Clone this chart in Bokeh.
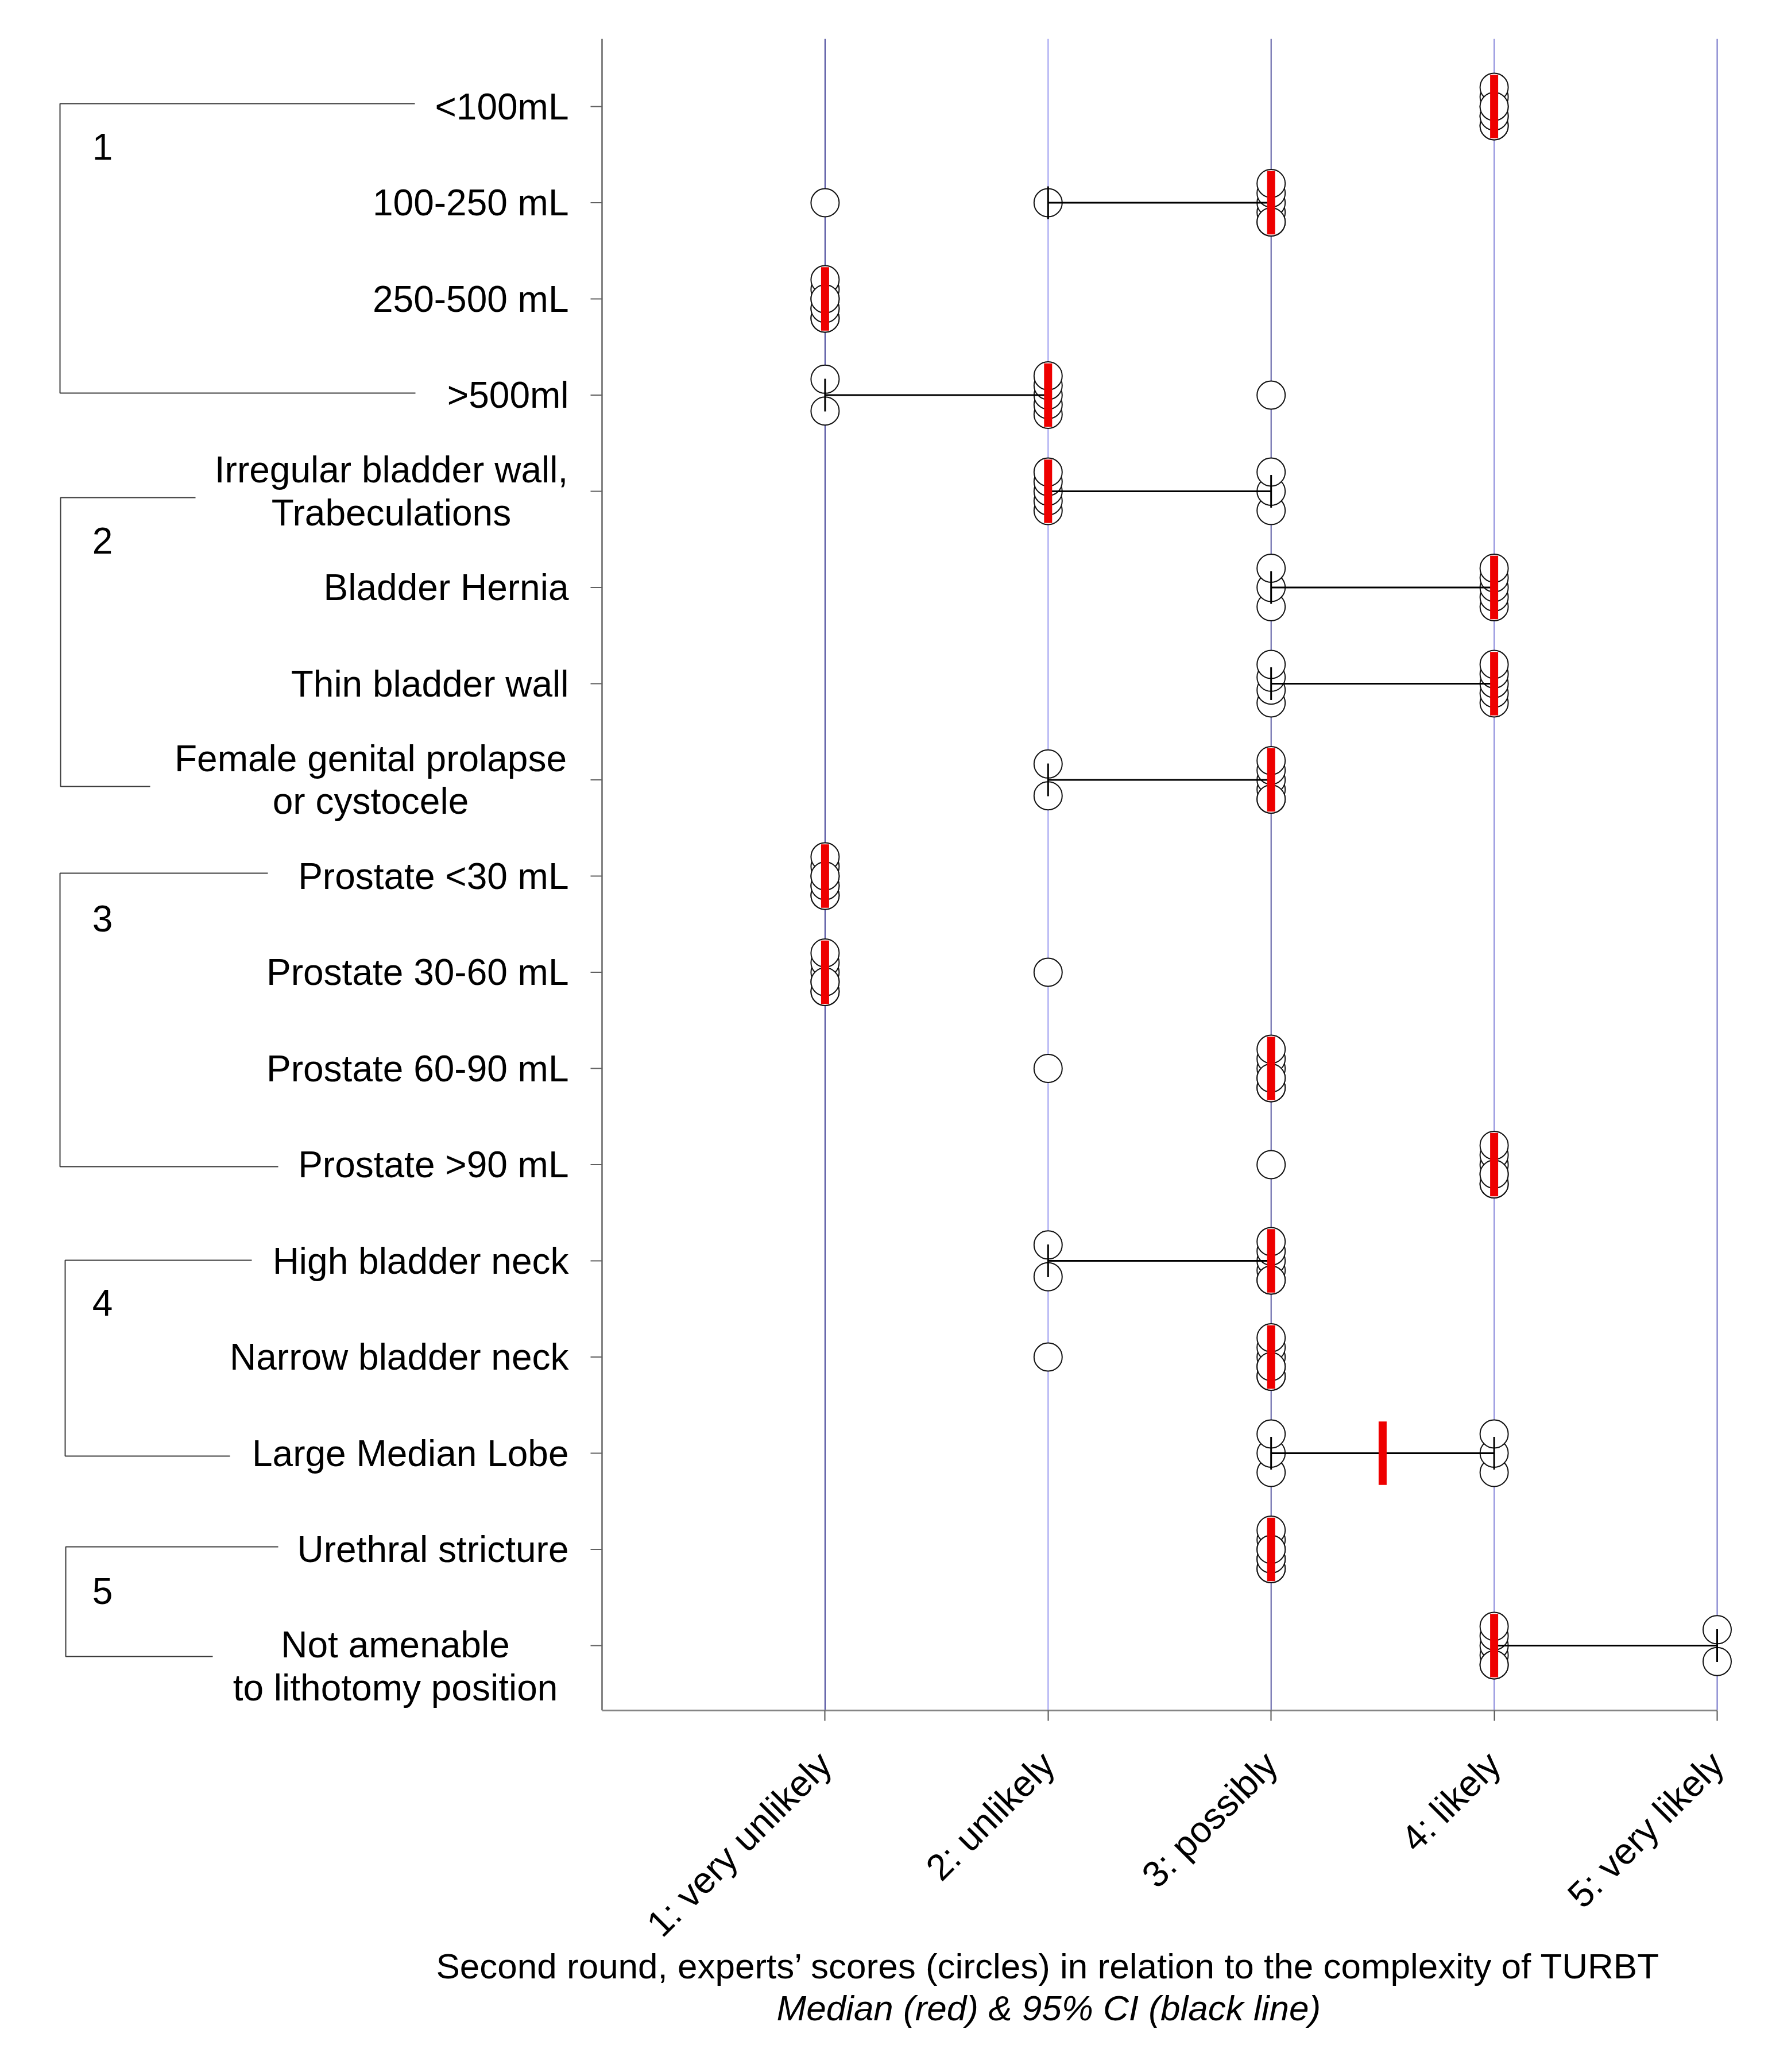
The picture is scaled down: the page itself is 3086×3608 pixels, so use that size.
import math
from collections import Counter
import numpy as np
from bokeh.plotting import figure
from bokeh.models import FixedTicker, Range1d, Title
from bokeh.core.properties import value
from bokeh.embed import file_html
from bokeh.resources import INLINE

# ---------------- data ----------------
categories = [
    "<100mL", "100-250 mL", "250-500 mL", ">500ml",
    "Irregular bladder wall,\nTrabeculations", "Bladder Hernia", "Thin bladder wall",
    "Female genital prolapse\nor cystocele",
    "Prostate <30 mL", "Prostate 30-60 mL", "Prostate 60-90 mL", "Prostate >90 mL",
    "High bladder neck", "Narrow bladder neck", "Large Median Lobe",
    "Urethral stricture", "Not amenable\nto lithotomy position",
]
scores = [
    [4, 4, 4, 4, 4, 4, 4, 4],
    [1, 2, 3, 3, 3, 3, 3, 3],
    [1, 1, 1, 1, 1, 1, 1, 1],
    [1, 1, 2, 2, 2, 2, 2, 3],
    [2, 2, 2, 2, 2, 3, 3, 3],
    [3, 3, 3, 4, 4, 4, 4, 4],
    [3, 3, 3, 3, 4, 4, 4, 4, 4],
    [2, 2, 3, 3, 3, 3, 3, 3],
    [1, 1, 1, 1, 1, 1, 1, 1],
    [1, 1, 1, 1, 1, 1, 1, 2],
    [2, 3, 3, 3, 3, 3, 3, 3],
    [3, 4, 4, 4, 4, 4, 4, 4],
    [2, 2, 3, 3, 3, 3, 3, 3],
    [2, 3, 3, 3, 3, 3, 3, 3],
    [3, 3, 3, 4, 4, 4],
    [3, 3, 3, 3, 3, 3, 3, 3],
    [4, 4, 4, 4, 4, 4, 5, 5],
]
medians = [4, 3, 1, 2, 2, 4, 4, 3, 1, 1, 3, 4, 3, 3, 3.5, 3, 4]
ci_low  = [4, 2, 1, 1, 2, 3, 3, 2, 1, 1, 3, 4, 2, 3, 3, 3, 4]
ci_high = [4, 3, 1, 2, 3, 4, 4, 3, 1, 1, 3, 4, 3, 3, 4, 3, 5]
score_levels = [1, 2, 3, 4, 5]
score_labels = ["1: very unlikely", "2: unlikely", "3: possibly", "4: likely", "5: very likely"]
group_names = ["1", "2", "3", "4", "5"]
title_line1 = "Second round, experts\u2019 scores (circles) in relation to the complexity of TURBT"
title_line2 = "Median (red) & 95% CI (black line)"

# ---------------- layout (page pixels) ----------------
FONT = "Liberation Sans"
PX_X = 388.4          # pixels per score unit
PX_Y = 167.5          # pixels per row
AX_X = 1048           # page x of score 0 (y axis)
ROW0_Y = 185          # page y of first row
FRAME_TOP = 67
FRAME_BOTTOM = 2978
ORIGIN = 0            # page offset of the canvas
W, H = 3086, 3600
n_rows = len(categories)

def dx(px):   # page x -> data x
    return (px - AX_X) / PX_X

def dy(py):   # page y -> data y
    return n_rows - (py - ROW0_Y) / PX_Y

row_y = [n_rows - i for i in range(n_rows)]

x0 = dx(ORIGIN)
x1 = x0 + W / PX_X
y1 = dy(FRAME_TOP)
y0 = dy(FRAME_BOTTOM)

p = figure(width=W, height=H, x_range=Range1d(x0, x1), y_range=Range1d(y0, y1),
           output_backend="svg", toolbar_location=None, y_axis_location=None,
           min_border_left=0, min_border_right=0, min_border_top=FRAME_TOP - ORIGIN,
           min_border_bottom=H - (FRAME_BOTTOM - ORIGIN))
p.xgrid.visible = False
p.ygrid.visible = False
p.outline_line_color = None
p.background_fill_color = "white"
p.border_fill_color = "white"

# vertical score lines
grid_colors = ["#3f3f96", "#9c9cf0", "#55559f", "#8c8cdc", "#6e6ec6"]
p.segment(x0=score_levels, x1=score_levels, y0=[y0] * 5, y1=[y1] * 5,
          line_color=grid_colors, line_width=2)

# y axis line and ticks
p.segment(x0=[0], x1=[0], y0=[y0], y1=[y1], line_color="#858585", line_width=3)
p.segment(x0=[0] * n_rows, x1=[-20 / PX_X] * n_rows, y0=row_y, y1=row_y,
          line_color="#606060", line_width=2)

# row labels
single = [i for i, c in enumerate(categories) if "\n" not in c]
multi = [i for i, c in enumerate(categories) if "\n" in c]
p.text(x=[0] * len(single), y=[row_y[i] for i in single], text=[categories[i] for i in single],
       x_offset=-58, text_align="right", text_baseline="middle",
       text_font=value(FONT), text_font_size="64px", text_color="black")
multi_center_px = {4: 681, 7: 645, 16: 688}
multi_yoff = {4: 0, 7: 0, 16: 36}
p.text(x=[dx(multi_center_px[i]) for i in multi], y=[row_y[i] for i in multi],
       text=[categories[i] for i in multi], y_offset=[multi_yoff[i] for i in multi],
       text_align="center", text_baseline="middle", text_line_height=1.03,
       text_font=value(FONT), text_font_size="64px", text_color="black")

# group brackets: (top page y, bottom page y, vertical x, top end x, bottom end x)
brackets = [
    (180, 684, 104, 722, 723),
    (866, 1369, 105, 340, 261),
    (1520, 2031, 104, 466, 484),
    (2194, 2535, 113, 438, 400),
    (2693, 2884, 114, 484, 370),
]
group_pos = [(178, 255), (178, 941), (178, 1599), (178, 2268), (178, 2770)]
bx, by = [], []
for (t, b, vx, tx, bxe) in brackets:
    bx.append([dx(tx), dx(vx), dx(vx), dx(bxe)])
    by.append([dy(t), dy(t), dy(b), dy(b)])
p.multi_line(xs=bx, ys=by, line_color="#3c3c3c", line_width=2)
p.text(x=[dx(g[0]) for g in group_pos], y=[dy(g[1]) for g in group_pos], text=group_names,
       text_align="center", text_baseline="middle", text_font=value(FONT),
       text_font_size="64px", text_color="black")

# expert score circles (stacked around the row)
cx, cy = [], []
for i, row in enumerate(scores):
    for v, n in sorted(Counter(row).items()):
        half = 0.0 if n == 1 else (0.165 if n == 2 else 0.2)
        k = min(n, 5)
        slots = np.linspace(-half, half, k)
        for j in range(n):
            cx.append(v)
            cy.append(row_y[i] + slots[j % k])
p.scatter(x=cx, y=cy, marker="circle", size=49, fill_color="white",
          line_color="#111111", line_width=2)

# 95% CI lines with end caps
ci_rows = [i for i in range(n_rows) if ci_low[i] != ci_high[i]]
p.segment(x0=[ci_low[i] for i in ci_rows], x1=[ci_high[i] for i in ci_rows],
          y0=[row_y[i] for i in ci_rows], y1=[row_y[i] for i in ci_rows],
          line_color="black", line_width=3)
cap_x = [ci_low[i] for i in ci_rows] + [ci_high[i] for i in ci_rows]
cap_y = [row_y[i] for i in ci_rows] * 2
p.segment(x0=cap_x, x1=cap_x, y0=[y - 0.17 for y in cap_y], y1=[y + 0.17 for y in cap_y],
          line_color="black", line_width=3)

# medians
p.segment(x0=medians, x1=medians, y0=[y - 0.33 for y in row_y], y1=[y + 0.33 for y in row_y],
          line_color="#ee0000", line_width=14, line_cap="butt")

# x axis
xa = p.xaxis[0]
xa.ticker = FixedTicker(ticks=score_levels)
xa.major_label_overrides = {lv: lab for lv, lab in zip(score_levels, score_labels)}
xa.bounds = (0, 5)
xa.major_label_orientation = math.pi / 4
xa.major_label_text_font = FONT
xa.major_label_text_font_size = "64px"
xa.major_label_text_color = "black"
xa.major_label_standoff = 65
xa.minor_tick_line_color = None
xa.major_tick_in = 0
xa.major_tick_out = 18
xa.major_tick_line_color = "#505050"
xa.major_tick_line_width = 2
xa.axis_line_color = "#858585"
xa.axis_line_width = 3

# caption below the axis
p.add_layout(Title(text=title_line1, align="left", offset=759 - ORIGIN, standoff=-56,
                   text_font=FONT, text_font_size="62px", text_font_style="normal",
                   text_color="black"), "below")
p.add_layout(Title(text=title_line2, align="left", offset=1352 - ORIGIN, standoff=60,
                   text_font=FONT, text_font_size="62px", text_font_style="italic",
                   text_color="black"), "below")

open("out.html", "w").write(file_html(p, INLINE))
